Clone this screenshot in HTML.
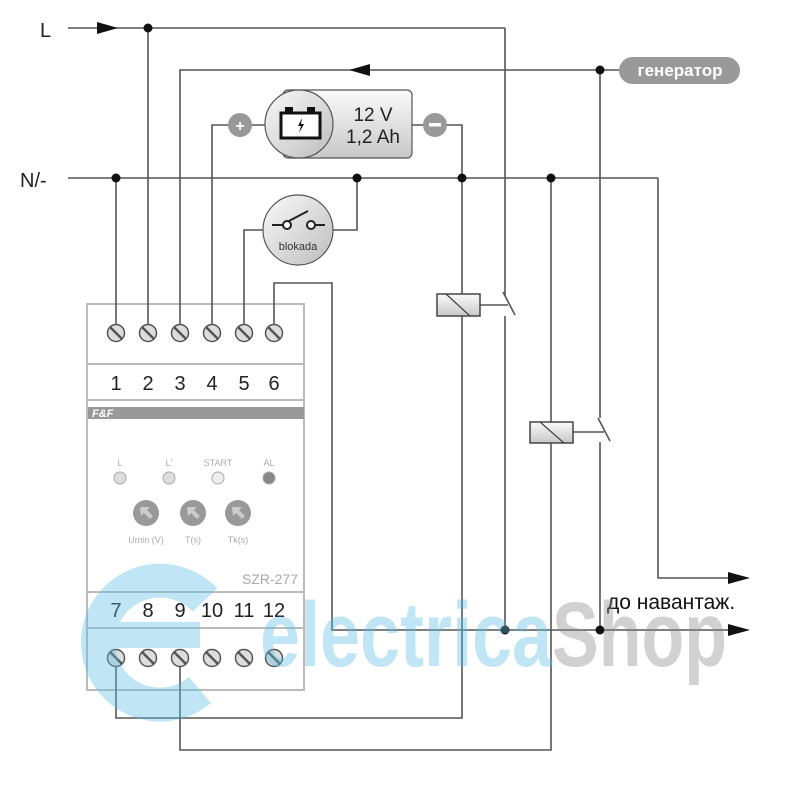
<!DOCTYPE html>
<html><head><meta charset="utf-8"><style>body{margin:0;background:#fff}svg{display:block}</style></head>
<body>
<svg width="800" height="800" viewBox="0 0 800 800" xmlns="http://www.w3.org/2000/svg" font-family="Liberation Sans, DejaVu Sans, sans-serif">
<defs>
<linearGradient id="g1" x1="0" y1="0" x2="0" y2="1"><stop offset="0" stop-color="#fafafa"/><stop offset="1" stop-color="#c8c8c8"/></linearGradient>
<linearGradient id="g2" x1="0" y1="0" x2="1" y2="1"><stop offset="0" stop-color="#fafafa"/><stop offset="1" stop-color="#bdbdbd"/></linearGradient>
</defs>
<!-- device body -->
<g stroke="#bbb" stroke-width="2" fill="#fff">
<rect x="87" y="304" width="217" height="386"/>
<line x1="87" y1="364" x2="304" y2="364"/>
<line x1="87" y1="400" x2="304" y2="400"/>
<line x1="87" y1="592" x2="304" y2="592"/>
<line x1="87" y1="628" x2="304" y2="628"/>
</g>
<rect x="88" y="407" width="216" height="12" fill="#999"/>
<text x="92" y="417" font-size="11" font-weight="bold" font-style="italic" fill="#fff">F&amp;F</text>
<g font-size="20" fill="#222" text-anchor="middle">
<text x="116" y="390">1</text><text x="148" y="390">2</text><text x="180" y="390">3</text><text x="212" y="390">4</text><text x="244" y="390">5</text><text x="274" y="390">6</text>
<text x="116" y="617">7</text><text x="148" y="617">8</text><text x="180" y="617">9</text><text x="212" y="617">10</text><text x="244" y="617">11</text><text x="274" y="617">12</text>
</g>
<text x="298" y="584" font-size="14" fill="#aaa" text-anchor="end">SZR-277</text>
<g font-size="9" fill="#aaa" text-anchor="middle">
<text x="120" y="466">L</text><text x="169" y="466">L'</text><text x="218" y="466">START</text><text x="269" y="466">AL</text>
<text x="146" y="543">Umin (V)</text><text x="193" y="543">T(s)</text><text x="238" y="543">Tk(s)</text>
</g>
<g stroke="#aaa" stroke-width="1">
<circle cx="120" cy="478" r="6" fill="#ddd"/><circle cx="169" cy="478" r="6" fill="#ddd"/><circle cx="218" cy="478" r="6" fill="#eee"/><circle cx="269" cy="478" r="6" fill="#888"/>
</g>
<g fill="#999">
<circle cx="146" cy="513" r="13"/><circle cx="193" cy="513" r="13"/><circle cx="238" cy="513" r="13"/>
</g>
<g fill="#ccc"><path d="M140 507 l10 0 -3 3 6 6 -3 3 -6 -6 -3 3z"/><path d="M187 507 l10 0 -3 3 6 6 -3 3 -6 -6 -3 3z"/><path d="M232 507 l10 0 -3 3 6 6 -3 3 -6 -6 -3 3z"/></g>
<!-- screws -->
<g stroke="#555" stroke-width="1.5" fill="#ddd">
<g transform="translate(116,333)"><circle r="8.5"/><line x1="-6" y1="-6" x2="6" y2="6" stroke-width="2.5"/></g>
<g transform="translate(148,333)"><circle r="8.5"/><line x1="-6" y1="-6" x2="6" y2="6" stroke-width="2.5"/></g>
<g transform="translate(180,333)"><circle r="8.5"/><line x1="-6" y1="-6" x2="6" y2="6" stroke-width="2.5"/></g>
<g transform="translate(212,333)"><circle r="8.5"/><line x1="-6" y1="-6" x2="6" y2="6" stroke-width="2.5"/></g>
<g transform="translate(244,333)"><circle r="8.5"/><line x1="-6" y1="-6" x2="6" y2="6" stroke-width="2.5"/></g>
<g transform="translate(274,333)"><circle r="8.5"/><line x1="-6" y1="-6" x2="6" y2="6" stroke-width="2.5"/></g>
<g transform="translate(116,658)"><circle r="8.5"/><line x1="-6" y1="-6" x2="6" y2="6" stroke-width="2.5"/></g>
<g transform="translate(148,658)"><circle r="8.5"/><line x1="-6" y1="-6" x2="6" y2="6" stroke-width="2.5"/></g>
<g transform="translate(180,658)"><circle r="8.5"/><line x1="-6" y1="-6" x2="6" y2="6" stroke-width="2.5"/></g>
<g transform="translate(212,658)"><circle r="8.5"/><line x1="-6" y1="-6" x2="6" y2="6" stroke-width="2.5"/></g>
<g transform="translate(244,658)"><circle r="8.5"/><line x1="-6" y1="-6" x2="6" y2="6" stroke-width="2.5"/></g>
<g transform="translate(274,658)"><circle r="8.5"/><line x1="-6" y1="-6" x2="6" y2="6" stroke-width="2.5"/></g>
</g>
<!-- wires -->
<g stroke="#555" stroke-width="1.6" fill="none">
<line x1="68" y1="28" x2="505" y2="28"/>
<polyline points="148,28 148,325"/>
<polyline points="505,28 505,296"/>
<line x1="503" y1="292" x2="515" y2="315"/>
<polyline points="505,316 505,630"/>
<polyline points="180,325 180,70 619,70"/>
<polyline points="600,70 600,418"/>
<line x1="598" y1="418" x2="610" y2="441"/>
<polyline points="600,442 600,630"/>
<polyline points="212,325 212,125 265,125"/>
<polyline points="412,125 462,125 462,718 116,718 116,666"/>
<line x1="68" y1="178" x2="658" y2="178"/>
<polyline points="658,178 658,578 735,578"/>
<polyline points="116,178 116,325"/>
<polyline points="357,178 357,230 333,230"/>
<polyline points="263,230 244,230 244,325"/>
<polyline points="551,178 551,750 180,750 180,666"/>
<polyline points="274,325 274,283 332,283 332,630 735,630"/>
<line x1="480" y1="305" x2="508" y2="305"/>
<line x1="573" y1="432" x2="604" y2="432"/>
</g>
<!-- arrows -->
<g fill="#111">
<path d="M97 22 L118 28 L97 34z"/>
<path d="M370 64 L349 70 L370 76z"/>
<path d="M728 572 L750 578 L728 584z"/>
<path d="M728 624 L750 630 L728 636z"/>
<circle cx="148" cy="28" r="4.5"/><circle cx="600" cy="70" r="4.5"/>
<circle cx="116" cy="178" r="4.5"/><circle cx="357" cy="178" r="4.5"/><circle cx="462" cy="178" r="4.5"/><circle cx="551" cy="178" r="4.5"/>
<circle cx="505" cy="630" r="4.5"/><circle cx="600" cy="630" r="4.5"/>
</g>
<!-- relay coils -->
<g stroke="#444" stroke-width="1.5" fill="url(#g1)">
<rect x="437" y="294" width="43" height="22"/><rect x="530" y="422" width="43" height="21"/>
</g>
<g stroke="#444" stroke-width="1.2"><line x1="446" y1="294" x2="470" y2="316"/><line x1="540" y1="422" x2="564" y2="443"/></g>
<!-- battery -->
<rect x="283" y="90" width="129" height="68" rx="5" fill="url(#g1)" stroke="#555" stroke-width="1.2"/>
<circle cx="299" cy="124" r="34" fill="url(#g2)" stroke="#555" stroke-width="1.2"/>
<rect x="281" y="113" width="39" height="25" fill="#fff" stroke="#111" stroke-width="3"/>
<rect x="285" y="107" width="8" height="6" fill="#111"/><rect x="307" y="107" width="8" height="6" fill="#111"/>
<path d="M302 118 l-4 8 3 0 -2 7 5 -9 -3 0z" fill="#111"/>
<text x="373" y="121" font-size="19" fill="#222" text-anchor="middle">12 V</text>
<text x="373" y="143" font-size="19" fill="#222" text-anchor="middle">1,2 Ah</text>
<circle cx="240" cy="125" r="12" fill="#999"/><text x="240" y="131" font-size="16" font-weight="bold" fill="#fff" text-anchor="middle">+</text>
<circle cx="435" cy="125" r="12" fill="#999"/><rect x="429" y="123" width="12" height="3.5" fill="#fff"/>
<!-- blokada -->
<circle cx="298" cy="230" r="35" fill="url(#g2)" stroke="#555" stroke-width="1.2"/>
<g stroke="#222" stroke-width="2" fill="#fff"><line x1="272" y1="225" x2="283" y2="225"/><line x1="311" y1="225" x2="325" y2="225"/><line x1="287" y1="222" x2="308" y2="211"/><circle cx="287" cy="225" r="4"/><circle cx="311" cy="225" r="4"/></g>
<text x="298" y="250" font-size="11" fill="#333" text-anchor="middle">blokada</text>
<!-- generator -->
<rect x="619" y="57" width="121" height="27" rx="13.5" fill="#999"/>
<text x="680" y="76" font-size="17" font-weight="bold" fill="#fff" text-anchor="middle">генератор</text>
<text x="40" y="37" font-size="20" fill="#222">L</text>
<text x="20" y="187" font-size="20" fill="#222">N/-</text>
<text x="607" y="609" font-size="21" fill="#111">до навантаж.</text>
<!-- watermark -->
<g opacity="0.38">
<path d="M205 600 A62 62 0 1 0 200 690" stroke="#5bbde6" stroke-width="34" fill="none"/>
<rect x="100" y="622" width="100" height="26" fill="#5bbde6"/>
<text x="260" y="666" font-size="92" font-weight="bold" fill="#5bbde6" textLength="292" lengthAdjust="spacingAndGlyphs">electrica</text>
<text x="552" y="666" font-size="92" font-weight="bold" fill="#888" textLength="175" lengthAdjust="spacingAndGlyphs">Shop</text>
</g>
</svg>
</body></html>
